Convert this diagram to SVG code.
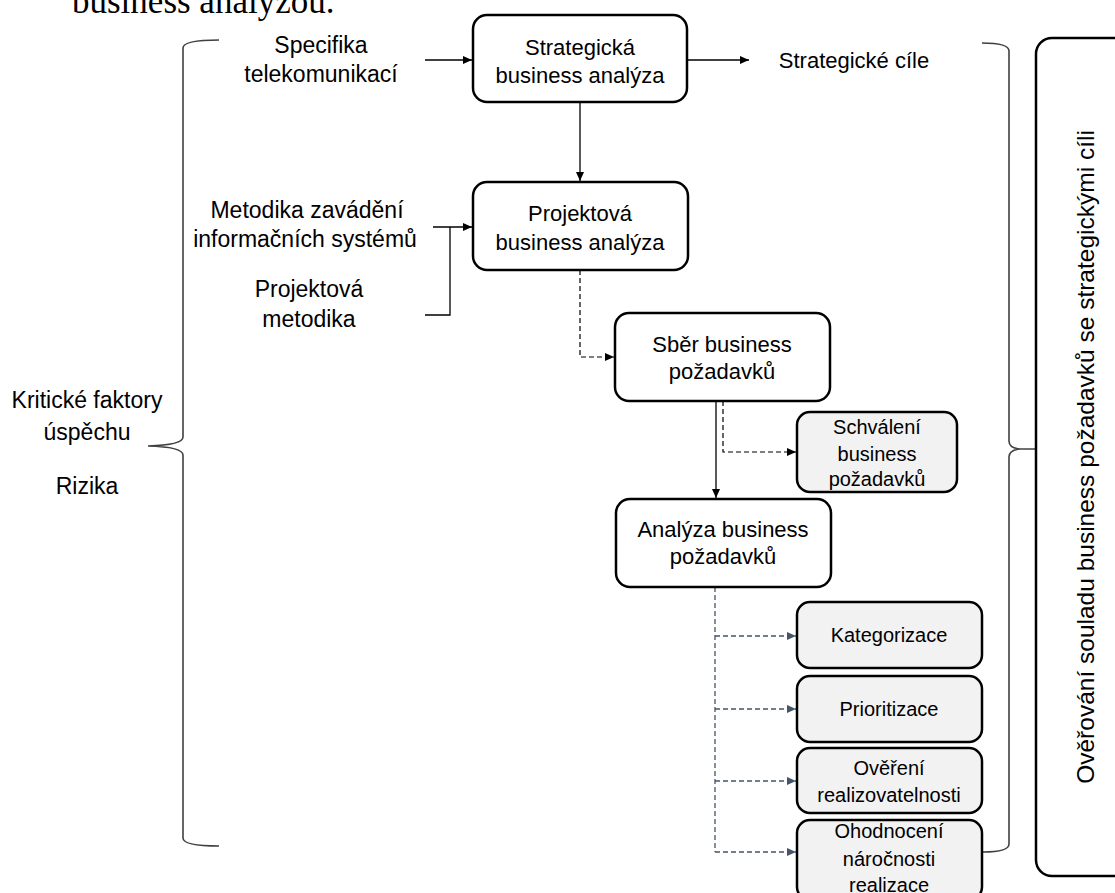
<svg xmlns="http://www.w3.org/2000/svg" width="1115" height="893" viewBox="0 0 1115 893">
<style>
text{font-family:"Liberation Sans",Arial,sans-serif;fill:#000;text-anchor:middle}
.t{font-size:22px}
.l{font-size:23px}
.s{font-size:20px}
.box{fill:#fff;stroke:#000;stroke-width:2.5}
.gbox{fill:#f2f2f2;stroke:#000;stroke-width:2.5}
.ln{fill:none;stroke:#000;stroke-width:1.3}
.dash{fill:none;stroke:#000;stroke-width:1.2;stroke-dasharray:5 3}
.bdash{fill:none;stroke:#44546a;stroke-width:1.3;stroke-dasharray:5 3}
.br{fill:none;stroke:#404040;stroke-width:1.6}
</style>
<defs>
<marker id="a" markerUnits="userSpaceOnUse" markerWidth="9" markerHeight="8" refX="9" refY="4" orient="auto"><path d="M0,0 L9,4 L0,8 z" fill="#000"/></marker>
<marker id="ab" markerUnits="userSpaceOnUse" markerWidth="9" markerHeight="8" refX="9" refY="4" orient="auto"><path d="M0,0 L9,4 L0,8 z" fill="#44546a"/></marker>
</defs>

<text x="72" y="13" style="font-family:'Liberation Serif','Times New Roman',serif;font-size:35px;text-anchor:start">business analýzou.</text>

<g id="connectors">
<path class="ln" d="M425,60 H472" marker-end="url(#a)"/>
<path class="ln" d="M688,60 H749" marker-end="url(#a)"/>
<path class="ln" d="M580,102 V181" marker-end="url(#a)"/>
<path class="ln" d="M433,227 H472" marker-end="url(#a)"/>
<path class="ln" d="M450,227 V315 H425"/>
<path class="dash" d="M580,270 V357 H614" marker-end="url(#a)"/>
<path class="ln" d="M716,401 V498" marker-end="url(#a)"/>
<path class="dash" d="M723,401 V452 H796" marker-end="url(#a)"/>
<path class="bdash" d="M715,587 V852"/>
<path class="bdash" d="M715,636 H796" marker-end="url(#ab)"/>
<path class="bdash" d="M715,709 H796" marker-end="url(#ab)"/>
<path class="bdash" d="M715,781 H796" marker-end="url(#ab)"/>
<path class="bdash" d="M715,852 H796" marker-end="url(#ab)"/>
</g>

<g id="left-brace">
<path class="br" d="M219,40 Q183,40 183,48 V437 Q183,445 148,446 Q183,447 183,455 V838 Q183,846 219,846"/>
</g>
<g id="right-brace">
<path class="br" d="M982,43 Q1009,43 1009,51 V441 Q1009,448 1020,449 H1036 M1020,449 Q1009,450 1009,457 V844 Q1009,852 983,852"/>
</g>

<g id="lbl-specifika">
<text class="l" x="321" y="53">Specifika</text>
<text class="l" x="321" y="82">telekomunikací</text>
</g>
<g id="lbl-cile">
<text class="t" x="854" y="68">Strategické cíle</text>
</g>
<g id="lbl-metodika-is">
<text class="l" x="307" y="218">Metodika zavádění</text>
<text class="l" x="305" y="247">informačních systémů</text>
</g>
<g id="lbl-proj-metodika">
<text class="l" x="309" y="297">Projektová</text>
<text class="l" x="309" y="327">metodika</text>
</g>
<g id="lbl-kfu">
<text class="l" x="87" y="408">Kritické faktory</text>
<text class="l" x="87" y="440">úspěchu</text>
<text class="l" x="87" y="494">Rizika</text>
</g>

<g id="n-strategicka">
<rect class="box" x="473" y="15" width="214" height="87" rx="14"/>
<text class="t" x="580" y="55">Strategická</text>
<text class="t" x="580" y="83">business analýza</text>
</g>
<g id="n-projektova">
<rect class="box" x="473" y="182" width="215" height="88" rx="14"/>
<text class="t" x="580" y="221">Projektová</text>
<text class="t" x="580" y="250">business analýza</text>
</g>
<g id="n-sber">
<rect class="box" x="615" y="313" width="215" height="88" rx="14"/>
<text class="t" x="722" y="352">Sběr business</text>
<text class="t" x="722" y="379">požadavků</text>
</g>
<g id="n-schvaleni">
<rect class="gbox" x="797" y="412" width="160" height="80" rx="13"/>
<text class="s" x="877" y="434">Schválení</text>
<text class="s" x="877" y="461">business</text>
<text class="s" x="877" y="486">požadavků</text>
</g>
<g id="n-analyza">
<rect class="box" x="616" y="499" width="215" height="88" rx="14"/>
<text class="t" x="723" y="537">Analýza business</text>
<text class="t" x="723" y="564">požadavků</text>
</g>
<g id="n-kategorizace">
<rect class="gbox" x="797" y="602" width="185" height="66" rx="13"/>
<text class="s" x="889" y="642">Kategorizace</text>
</g>
<g id="n-prioritizace">
<rect class="gbox" x="797" y="676" width="185" height="66" rx="13"/>
<text class="s" x="889" y="716">Prioritizace</text>
</g>
<g id="n-overeni">
<rect class="gbox" x="797" y="748" width="185" height="65" rx="13"/>
<text class="s" x="889" y="775">Ověření</text>
<text class="s" x="889" y="802">realizovatelnosti</text>
</g>
<g id="n-ohodnoceni">
<rect class="gbox" x="797" y="820" width="185" height="80" rx="13"/>
<text class="s" x="889" y="838">Ohodnocení</text>
<text class="s" x="889" y="866">náročnosti</text>
<text class="s" x="889" y="892">realizace</text>
</g>
<g id="n-overovani">
<rect class="box" x="1036" y="38" width="115" height="838" rx="16"/>
<text x="0" y="0" transform="translate(1094,457) rotate(-90)" style="font-size:24.5px">Ověřování souladu business požadavků se strategickými cíli</text>
</g>
</svg>
